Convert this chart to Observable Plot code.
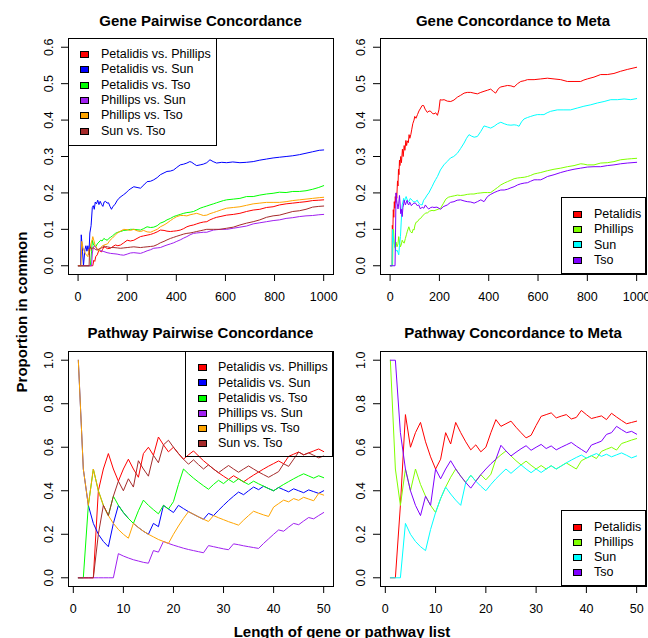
<!DOCTYPE html>
<html><head><meta charset="utf-8">
<script src="https://cdn.jsdelivr.net/npm/d3@7"></script>
<script src="https://cdn.jsdelivr.net/npm/@observablehq/plot@0.6"></script>
<style>
body{margin:0;background:#fff;}
#root{position:relative;width:648px;height:638px;overflow:hidden;font-family:"Liberation Sans",Arial,Helvetica,sans-serif;color:#000;}
.panel{position:absolute;}
.title{position:absolute;font-weight:bold;font-size:15px;white-space:nowrap;transform:translate(-50%,-50%);line-height:1;}
.legend{position:absolute;border:1px solid #000;box-sizing:border-box;background:transparent;}
.row{position:absolute;height:16px;display:flex;align-items:center;font-size:12.5px;white-space:nowrap;line-height:1;}
.sw{position:absolute;width:9px;height:7px;border:1px solid #000;box-sizing:border-box;}
</style></head><body><div id="root"></div><script>
// ---------------- DATA ----------------
const panelTitles = ["Gene Pairwise Concordance", "Gene Concordance to Meta", "Pathway Pairwise Concordance", "Pathway Concordance to Meta"];
const yAxisLabel = "Proportion in common";
const xAxisLabel = "Length of gene or pathway list";

const pairNames = ["Petalidis vs. Phillips", "Petalidis vs. Sun", "Petalidis vs. Tso", "Phillips vs. Sun", "Phillips vs. Tso", "Sun vs. Tso"];
const pairColors = ["#FF0000", "#0000FF", "#00FF00", "#A020F0", "#FFA500", "#A52A2A"];
const metaNames = ["Petalidis", "Phillips", "Sun", "Tso"];
const metaColors = ["#FF0000", "#80FF00", "#00FFFF", "#8000FF"];

const geneTicksX = [0, 200, 400, 600, 800, 1000];
const geneTicksY = [0, 0.1, 0.2, 0.3, 0.4, 0.5, 0.6];
const pathTicksX = [0, 10, 20, 30, 40, 50];
const pathTicksY = [0, 0.2, 0.4, 0.6, 0.8, 1.0];

// Gene pairwise concordance: [list length, proportion]
const genePetalidisPhillips = [[1,0],[60,0],[64,0.015],[68,0.012],[72,0.025],[78,0.03],[85,0.043],[90,0.04],[95,0.038],[100,0.045],[105,0.052],[112,0.05],[120,0.047],[132,0.048],[142,0.053],[152,0.057],[162,0.055],[173,0.057],[186,0.063],[200,0.07],[213,0.068],[227,0.07],[240,0.075],[254,0.08],[267,0.082],[281,0.084],[295,0.086],[308,0.089],[322,0.093],[335,0.098],[350,0.097],[362,0.095],[376,0.094],[389,0.095],[402,0.096],[416,0.098],[430,0.102],[443,0.107],[456,0.11],[470,0.112],[483,0.115],[497,0.118],[510,0.12],[524,0.121],[537,0.126],[551,0.13],[564,0.133],[578,0.135],[605,0.139],[632,0.141],[659,0.144],[686,0.149],[713,0.153],[740,0.155],[767,0.16],[794,0.162],[820,0.167],[847,0.17],[874,0.172],[901,0.174],[928,0.176],[955,0.179],[980,0.18],[1000,0.181]];
const genePetalidisSun = [[1,0],[10,0],[13,0.085],[18,0.04],[22,0],[28,0.045],[32,0.055],[36,0.04],[40,0.055],[44,0.03],[48,0.09],[53,0.11],[58,0.16],[62,0.165],[66,0.155],[70,0.175],[75,0.17],[80,0.18],[85,0.168],[90,0.177],[96,0.168],[101,0.163],[106,0.175],[112,0.177],[118,0.172],[124,0.173],[130,0.163],[136,0.155],[142,0.163],[150,0.168],[158,0.178],[166,0.185],[175,0.19],[185,0.195],[195,0.2],[205,0.207],[215,0.212],[227,0.217],[240,0.215],[254,0.213],[268,0.222],[281,0.231],[295,0.232],[308,0.236],[322,0.242],[335,0.25],[350,0.255],[362,0.259],[376,0.26],[389,0.263],[402,0.27],[416,0.277],[430,0.279],[443,0.282],[455,0.286],[463,0.284],[473,0.279],[483,0.275],[497,0.277],[510,0.279],[524,0.283],[537,0.291],[550,0.286],[564,0.282],[585,0.284],[605,0.283],[630,0.285],[659,0.283],[685,0.284],[713,0.286],[740,0.29],[767,0.293],[794,0.296],[820,0.298],[847,0.3],[874,0.302],[901,0.305],[928,0.309],[955,0.313],[982,0.317],[1000,0.318]];
const genePetalidisTso = [[1,0],[50,0],[55,0.04],[58,0.07],[62,0.06],[66,0.055],[72,0.052],[78,0.06],[85,0.065],[92,0.07],[98,0.068],[105,0.075],[112,0.072],[119,0.07],[125,0.075],[132,0.078],[140,0.082],[152,0.089],[162,0.092],[173,0.094],[186,0.097],[200,0.098],[213,0.1],[227,0.1],[240,0.099],[254,0.098],[267,0.102],[281,0.107],[295,0.105],[308,0.106],[322,0.11],[335,0.117],[350,0.121],[362,0.126],[376,0.13],[389,0.135],[402,0.138],[416,0.141],[430,0.144],[443,0.146],[456,0.147],[470,0.149],[483,0.153],[497,0.158],[510,0.161],[524,0.164],[537,0.167],[551,0.17],[564,0.173],[578,0.176],[592,0.179],[605,0.181],[632,0.183],[659,0.185],[686,0.19],[713,0.19],[740,0.194],[767,0.197],[794,0.199],[820,0.202],[847,0.201],[874,0.204],[901,0.204],[928,0.206],[955,0.21],[980,0.215],[1000,0.22]];
const genePhillipsSun = [[1,0],[55,0],[58,0.035],[62,0.05],[66,0.055],[72,0.05],[78,0.045],[85,0.043],[92,0.042],[98,0.04],[105,0.039],[118,0.036],[132,0.034],[146,0.033],[159,0.032],[173,0.03],[186,0.029],[200,0.032],[213,0.035],[227,0.036],[240,0.035],[254,0.034],[267,0.037],[281,0.041],[295,0.044],[308,0.048],[322,0.049],[335,0.05],[350,0.054],[362,0.057],[376,0.06],[389,0.063],[402,0.067],[416,0.071],[430,0.076],[443,0.08],[456,0.085],[470,0.089],[483,0.09],[497,0.091],[510,0.092],[524,0.092],[537,0.095],[551,0.098],[564,0.099],[578,0.1],[605,0.1],[632,0.103],[659,0.106],[686,0.109],[713,0.115],[740,0.118],[767,0.121],[794,0.124],[820,0.126],[847,0.13],[874,0.132],[901,0.135],[928,0.137],[955,0.138],[980,0.14],[1000,0.141]];
const genePhillipsTso = [[1,0],[12,0],[15,0.067],[20,0.05],[25,0.04],[30,0.033],[35,0.029],[40,0.025],[44,0.045],[48,0.04],[52,0.06],[57,0.07],[60,0.08],[64,0.07],[70,0.055],[77,0.048],[85,0.04],[92,0.05],[100,0.055],[110,0.058],[120,0.06],[130,0.07],[140,0.076],[150,0.083],[160,0.09],[172,0.095],[186,0.1],[200,0.099],[213,0.097],[227,0.1],[240,0.096],[254,0.094],[267,0.097],[281,0.093],[295,0.092],[308,0.096],[322,0.1],[335,0.107],[350,0.112],[362,0.117],[376,0.124],[389,0.13],[402,0.135],[416,0.138],[430,0.138],[443,0.137],[456,0.14],[470,0.142],[483,0.144],[497,0.141],[510,0.138],[524,0.139],[537,0.143],[551,0.146],[564,0.149],[585,0.154],[605,0.158],[632,0.16],[659,0.162],[686,0.166],[713,0.17],[740,0.172],[767,0.174],[794,0.174],[820,0.174],[847,0.176],[874,0.179],[901,0.181],[928,0.183],[955,0.185],[982,0.187],[1000,0.188]];
const geneSunTso = [[1,0],[45,0],[47,0.045],[50,0.052],[55,0.045],[60,0.05],[65,0.048],[70,0.045],[78,0.043],[85,0.046],[92,0.048],[98,0.05],[105,0.054],[112,0.053],[119,0.052],[132,0.05],[146,0.05],[160,0.049],[173,0.048],[186,0.049],[200,0.05],[213,0.051],[227,0.052],[240,0.051],[254,0.05],[267,0.051],[281,0.052],[295,0.053],[308,0.054],[322,0.058],[335,0.063],[350,0.067],[362,0.071],[376,0.075],[389,0.078],[402,0.081],[416,0.084],[430,0.087],[443,0.089],[456,0.09],[470,0.092],[483,0.094],[497,0.096],[510,0.098],[524,0.1],[551,0.1],[578,0.1],[605,0.103],[632,0.106],[659,0.112],[686,0.117],[713,0.121],[740,0.126],[767,0.133],[794,0.137],[820,0.139],[847,0.144],[874,0.149],[901,0.151],[928,0.155],[955,0.161],[980,0.163],[1000,0.164]];

// Gene concordance to meta
const geneMetaPetalidis = [[1,0],[8,0],[9,0.111],[11,0.09],[13,0.154],[15,0.133],[17,0.176],[19,0.158],[21,0.19],[23,0.174],[25,0.2],[27,0.185],[30,0.233],[32,0.219],[34,0.265],[36,0.25],[38,0.29],[40,0.275],[43,0.3],[46,0.283],[50,0.32],[53,0.3],[57,0.33],[60,0.317],[64,0.344],[67,0.33],[70,0.343],[74,0.338],[77,0.36],[80,0.35],[84,0.36],[88,0.375],[92,0.39],[97,0.4],[100,0.41],[105,0.405],[111,0.415],[117,0.425],[124,0.433],[130,0.44],[136,0.44],[142,0.43],[151,0.421],[158,0.425],[165,0.424],[172,0.418],[178,0.417],[185,0.42],[192,0.413],[198,0.428],[203,0.456],[210,0.455],[219,0.456],[232,0.452],[246,0.451],[259,0.455],[273,0.463],[286,0.468],[300,0.474],[313,0.476],[327,0.476],[340,0.474],[354,0.472],[368,0.476],[381,0.479],[395,0.482],[408,0.485],[420,0.478],[428,0.474],[440,0.487],[449,0.491],[463,0.493],[476,0.495],[490,0.494],[503,0.491],[517,0.5],[530,0.506],[544,0.508],[557,0.511],[584,0.511],[611,0.513],[638,0.515],[665,0.513],[692,0.511],[719,0.506],[746,0.506],[773,0.506],[786,0.51],[800,0.513],[827,0.518],[854,0.525],[881,0.525],[908,0.528],[935,0.534],[962,0.539],[1000,0.545]];
const geneMetaPhillips = [[1,0],[10,0],[12,0.083],[14,0.1],[17,0.06],[20,0.05],[24,0.065],[28,0.052],[32,0.06],[35,0.08],[38,0.065],[42,0.052],[46,0.06],[49,0.07],[53,0.065],[57,0.062],[62,0.075],[66,0.085],[70,0.095],[76,0.107],[82,0.094],[89,0.09],[93,0.1],[97,0.098],[101,0.112],[106,0.12],[111,0.121],[118,0.128],[124,0.13],[130,0.136],[137,0.14],[144,0.145],[151,0.145],[160,0.15],[170,0.152],[178,0.151],[190,0.154],[205,0.158],[215,0.17],[226,0.183],[236,0.188],[246,0.19],[260,0.192],[273,0.194],[286,0.193],[300,0.194],[313,0.196],[327,0.197],[340,0.197],[354,0.199],[368,0.2],[381,0.201],[395,0.201],[408,0.201],[422,0.208],[436,0.215],[449,0.222],[463,0.227],[476,0.231],[490,0.235],[503,0.239],[517,0.241],[530,0.242],[544,0.243],[557,0.245],[570,0.248],[584,0.252],[597,0.254],[611,0.256],[638,0.261],[665,0.265],[692,0.268],[719,0.272],[746,0.275],[773,0.28],[786,0.279],[800,0.277],[827,0.277],[854,0.282],[881,0.283],[908,0.286],[935,0.291],[962,0.293],[980,0.294],[1000,0.295]];
const geneMetaSun = [[1,0],[8,0],[10,0.1],[12,0.083],[14,0.07],[17,0.06],[20,0.05],[24,0.04],[28,0.043],[32,0.036],[35,0.03],[38,0.055],[42,0.08],[45,0.12],[49,0.167],[52,0.175],[55,0.185],[58,0.175],[62,0.185],[65,0.19],[70,0.18],[76,0.176],[82,0.185],[89,0.18],[96,0.175],[103,0.176],[110,0.18],[116,0.172],[123,0.168],[130,0.167],[136,0.18],[143,0.186],[150,0.194],[157,0.2],[163,0.208],[170,0.217],[177,0.227],[185,0.237],[192,0.245],[204,0.263],[218,0.277],[231,0.286],[245,0.296],[258,0.3],[273,0.309],[286,0.322],[300,0.337],[310,0.35],[320,0.36],[330,0.356],[341,0.353],[354,0.355],[368,0.369],[381,0.384],[395,0.381],[408,0.378],[422,0.383],[436,0.39],[449,0.394],[463,0.39],[476,0.387],[490,0.386],[503,0.387],[513,0.386],[523,0.383],[533,0.395],[543,0.403],[557,0.407],[570,0.41],[584,0.413],[597,0.415],[611,0.415],[624,0.415],[637,0.42],[651,0.424],[678,0.428],[705,0.428],[732,0.428],[759,0.433],[786,0.438],[814,0.442],[841,0.447],[868,0.451],[895,0.456],[922,0.456],[949,0.458],[976,0.456],[1000,0.459]];
const geneMetaTso = [[1,0],[20,0],[22,0.09],[24,0.2],[26,0.185],[28,0.172],[30,0.167],[32,0.156],[35,0.17],[38,0.193],[40,0.175],[43,0.143],[46,0.155],[49,0.135],[52,0.16],[55,0.17],[57,0.18],[60,0.172],[62,0.167],[66,0.175],[69,0.18],[72,0.17],[76,0.167],[79,0.175],[82,0.172],[86,0.165],[89,0.167],[96,0.172],[103,0.172],[110,0.165],[116,0.167],[123,0.156],[130,0.161],[137,0.158],[143,0.167],[150,0.16],[157,0.156],[165,0.16],[172,0.161],[178,0.16],[190,0.161],[205,0.155],[215,0.162],[232,0.167],[245,0.174],[259,0.176],[272,0.18],[286,0.181],[300,0.178],[313,0.176],[327,0.175],[341,0.172],[354,0.176],[368,0.181],[381,0.176],[395,0.19],[408,0.196],[422,0.201],[436,0.205],[449,0.208],[463,0.208],[476,0.21],[490,0.214],[503,0.217],[517,0.222],[530,0.225],[544,0.227],[557,0.228],[570,0.232],[584,0.236],[597,0.236],[611,0.236],[624,0.24],[638,0.245],[665,0.25],[692,0.256],[719,0.261],[746,0.265],[773,0.268],[800,0.271],[827,0.272],[854,0.272],[881,0.275],[908,0.277],[935,0.28],[962,0.282],[1000,0.284]];

// Pathway list lengths
const pathwayLength = [1,2,3,4,5,6,7,8,9,10,11,12,13,14,15,16,17,18,19,20,21,22,23,24,25,26,27,28,29,30,31,32,33,34,35,36,37,38,39,40,41,42,43,44,45,46,47,48,49,50];
// Pathway pairwise concordance
const pathPetalidisPhillips = [0,0,0,0,0.4,0.5,0.571,0.5,0.444,0.5, 0.545,0.5,0.462,0.571,0.6,0.563,0.647,0.611,0.579,0.6, 0.571,0.545,0.565,0.583,0.56,0.538,0.519,0.5,0.483,0.467, 0.452,0.469,0.455,0.441,0.457,0.472,0.486,0.5,0.513,0.525, 0.537,0.524,0.558,0.568,0.578,0.565,0.574,0.583,0.592,0.58];
const pathPetalidisSun = [1,0.5,0.333,0.25,0.2,0.167,0.143,0.25,0.333,0.3, 0.273,0.25,0.231,0.214,0.2,0.25,0.235,0.333,0.316,0.3, 0.333,0.318,0.304,0.292,0.28,0.269,0.296,0.286,0.31,0.333, 0.355,0.375,0.394,0.382,0.4,0.417,0.405,0.421,0.41,0.4, 0.415,0.405,0.395,0.409,0.4,0.391,0.404,0.396,0.388,0.4];
const pathPetalidisTso = [0,0,0.333,0.5,0.4,0.333,0.286,0.375,0.333,0.3, 0.273,0.25,0.308,0.357,0.333,0.313,0.294,0.333,0.316,0.35, 0.429,0.5,0.478,0.458,0.44,0.423,0.407,0.429,0.448,0.433, 0.452,0.438,0.455,0.441,0.429,0.444,0.432,0.421,0.41,0.4, 0.415,0.429,0.442,0.455,0.467,0.478,0.468,0.458,0.469,0.46];
const pathPhillipsSun = [0,0,0,0,0,0,0,0,0.111,0.1, 0.091,0.083,0.077,0.071,0.067,0.125,0.118,0.167,0.158,0.15, 0.143,0.136,0.13,0.125,0.12,0.115,0.148,0.143,0.138,0.133, 0.129,0.156,0.152,0.147,0.143,0.139,0.135,0.158,0.179,0.2, 0.22,0.214,0.233,0.25,0.244,0.261,0.277,0.271,0.286,0.3];
const pathPhillipsTso = [1,0.5,0.333,0.5,0.4,0.333,0.286,0.25,0.222,0.2, 0.182,0.25,0.231,0.214,0.2,0.188,0.176,0.167,0.158,0.2, 0.238,0.273,0.304,0.292,0.28,0.269,0.259,0.286,0.276,0.267, 0.258,0.25,0.242,0.265,0.286,0.306,0.297,0.289,0.282,0.325, 0.341,0.357,0.349,0.364,0.356,0.37,0.362,0.354,0.388,0.38];
const pathSunTso = [0,0,0,0,0.2,0.333,0.286,0.375,0.444,0.4, 0.455,0.417,0.538,0.5,0.467,0.563,0.529,0.611,0.632,0.6, 0.571,0.545,0.522,0.542,0.52,0.5,0.519,0.5,0.483,0.5, 0.516,0.5,0.485,0.5,0.514,0.5,0.486,0.474,0.462,0.475, 0.488,0.524,0.512,0.545,0.578,0.565,0.574,0.563,0.551,0.56];
// Pathway concordance to meta
const pathMetaPetalidis = [0,0,0.333,0.75,0.6,0.667,0.714,0.625,0.556,0.5, 0.545,0.667,0.615,0.714,0.667,0.625,0.588,0.611,0.579,0.6, 0.667,0.727,0.696,0.708,0.72,0.692,0.667,0.643,0.655,0.7, 0.742,0.75,0.758,0.735,0.743,0.75,0.73,0.737,0.769,0.75, 0.732,0.738,0.744,0.727,0.756,0.739,0.723,0.708,0.714,0.72];
const pathMetaPhillips = [1,0.5,0.333,0.5,0.4,0.5,0.429,0.375,0.333,0.3, 0.364,0.417,0.462,0.5,0.467,0.438,0.471,0.444,0.474,0.45, 0.476,0.545,0.565,0.583,0.56,0.538,0.519,0.536,0.517,0.5, 0.516,0.5,0.515,0.5,0.514,0.528,0.514,0.5,0.538,0.55, 0.561,0.548,0.581,0.591,0.6,0.587,0.617,0.625,0.633,0.64];
const pathMetaSun = [0,0,0,0.25,0.2,0.167,0.143,0.125,0.222,0.3, 0.364,0.417,0.385,0.357,0.333,0.438,0.471,0.444,0.421,0.4, 0.429,0.455,0.478,0.5,0.48,0.5,0.519,0.5,0.483,0.5, 0.484,0.5,0.515,0.5,0.514,0.528,0.541,0.553,0.564,0.55, 0.561,0.571,0.558,0.568,0.556,0.565,0.574,0.563,0.551,0.56];
const pathMetaTso = [1,1,0.667,0.5,0.4,0.333,0.286,0.375,0.333,0.5, 0.455,0.5,0.538,0.5,0.467,0.438,0.412,0.444,0.474,0.5, 0.524,0.545,0.609,0.583,0.56,0.577,0.593,0.607,0.586,0.6, 0.613,0.594,0.606,0.588,0.6,0.611,0.622,0.605,0.59,0.575, 0.61,0.619,0.628,0.659,0.667,0.696,0.681,0.667,0.673,0.66];

// ---------------- DRAWING ----------------
const root = document.getElementById("root");
const FONT = "'Liberation Sans', Arial, Helvetica, sans-serif";
const pad = (lo, hi) => { const e = (hi - lo) * 0.04; return [lo - e, hi + e]; };
const toPath = arr => pathwayLength.map((x, i) => [x, arr[i]]);

function drawPanel({frameLeft, frameTop, frameW, frameH, series, colors, xDomain, xTicks, yDomain, yTicks}) {
  const mL = 48, mR = 2, mT = 8, mB = 40;
  const marks = series.map((s, i) => Plot.line(s, {x: d => d[0], y: d => d[1], stroke: colors[i], strokeWidth: 1}));
  marks.push(Plot.frame({stroke: "black", strokeWidth: 1}));
  marks.push(Plot.axisX({ticks: xTicks, tickSize: 7, tickPadding: 11, tickFormat: d => String(d), label: null, fontSize: 12.5}));
  marks.push(Plot.axisY({ticks: yTicks, tickSize: 7, tickPadding: 9, tickRotate: -90, tickFormat: d3.format(".1f"), label: null, fontSize: 12.5}));
  const svg = Plot.plot({
    width: mL + frameW + mR, height: mT + frameH + mB,
    marginLeft: mL, marginRight: mR, marginTop: mT, marginBottom: mB,
    x: {domain: xDomain}, y: {domain: yDomain},
    style: {background: "transparent", fontFamily: FONT, fontSize: "12.5px", color: "black", overflow: "visible"},
    marks
  });
  const div = document.createElement("div");
  div.className = "panel";
  div.style.left = (frameLeft - mL) + "px";
  div.style.top = (frameTop - mT) + "px";
  div.style.width = (mL + frameW + mR) + "px";
  div.appendChild(svg);
  root.appendChild(div);
}

function addTitle(text, cx, cy) {
  const t = document.createElement("div");
  t.className = "title"; t.textContent = text;
  t.style.left = cx + "px"; t.style.top = cy + "px";
  root.appendChild(t);
}

function addLegend(names, colors, left, top, w, h, firstRow, step, swX, txtX) {
  const box = document.createElement("div");
  box.className = "legend";
  Object.assign(box.style, {left: left + "px", top: top + "px", width: w + "px", height: h + "px"});
  names.forEach((n, i) => {
    const cy = firstRow + i * step;
    const sw = document.createElement("div");
    sw.className = "sw";
    Object.assign(sw.style, {left: swX + "px", top: (cy - 3.5) + "px", background: colors[i]});
    box.appendChild(sw);
    const r = document.createElement("div");
    r.className = "row"; r.textContent = n;
    Object.assign(r.style, {left: txtX + "px", top: (cy - 8) + "px"});
    box.appendChild(r);
  });
  root.appendChild(box);
}

const geneXD = pad(1, 1000), geneYD = pad(0, 0.6);
const pathXD = pad(1, 50), pathYD = pad(0, 1);

drawPanel({frameLeft: 68, frameTop: 38, frameW: 265, frameH: 236,
  series: [genePetalidisPhillips, genePetalidisSun, genePetalidisTso, genePhillipsSun, genePhillipsTso, geneSunTso],
  colors: pairColors, xDomain: geneXD, xTicks: geneTicksX, yDomain: geneYD, yTicks: geneTicksY});
drawPanel({frameLeft: 380, frameTop: 38, frameW: 266, frameH: 236,
  series: [geneMetaPetalidis, geneMetaPhillips, geneMetaSun, geneMetaTso],
  colors: metaColors, xDomain: geneXD, xTicks: geneTicksX, yDomain: geneYD, yTicks: geneTicksY});
drawPanel({frameLeft: 68, frameTop: 351, frameW: 265, frameH: 235,
  series: [pathPetalidisPhillips, pathPetalidisSun, pathPetalidisTso, pathPhillipsSun, pathPhillipsTso, pathSunTso].map(toPath),
  colors: pairColors, xDomain: pathXD, xTicks: pathTicksX, yDomain: pathYD, yTicks: pathTicksY});
drawPanel({frameLeft: 380, frameTop: 351, frameW: 266, frameH: 235,
  series: [pathMetaPetalidis, pathMetaPhillips, pathMetaSun, pathMetaTso].map(toPath),
  colors: metaColors, xDomain: pathXD, xTicks: pathTicksX, yDomain: pathYD, yTicks: pathTicksY});

addTitle(panelTitles[0], 200.5, 20);
addTitle(panelTitles[1], 513, 20);
addTitle(panelTitles[2], 200.5, 332);
addTitle(panelTitles[3], 513, 332);

addLegend(pairNames, pairColors, 68, 38, 149, 108, 15.3, 15.35, 11, 32);
addLegend(metaNames, metaColors, 561, 197, 85, 77, 16.3, 15.3, 11, 32);
addLegend(pairNames, pairColors, 185, 351, 148, 106, 15.7, 15.2, 12, 32);
addLegend(metaNames, metaColors, 561, 510, 85, 76, 16, 15.2, 11, 32);

const yl = document.createElement("div");
yl.className = "title"; yl.textContent = yAxisLabel;
Object.assign(yl.style, {left: "21px", top: "311.5px", transform: "translate(-50%,-50%) rotate(-90deg)"});
root.appendChild(yl);
const xl = document.createElement("div");
xl.className = "title"; xl.textContent = xAxisLabel;
Object.assign(xl.style, {left: "342px", top: "631px"});
root.appendChild(xl);
</script></body></html>
